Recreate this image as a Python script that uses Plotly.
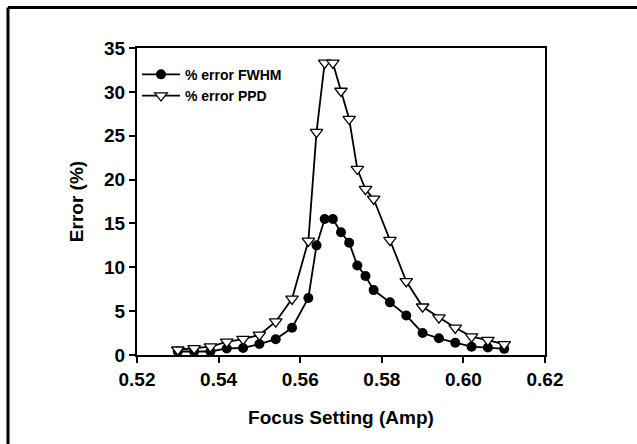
import plotly.graph_objects as go

focus_fwhm = [0.530, 0.534, 0.538, 0.542, 0.546, 0.550, 0.554, 0.558, 0.562, 0.564,
              0.566, 0.568, 0.570, 0.572, 0.574, 0.576, 0.578, 0.582, 0.586, 0.590,
              0.594, 0.598, 0.602, 0.606, 0.610]
err_fwhm = [0.4, 0.4, 0.4, 0.75, 0.8, 1.25, 1.8, 3.1, 6.5, 12.5,
            15.5, 15.5, 14.0, 12.8, 10.2, 9.0, 7.4, 6.0, 4.5, 2.5,
            1.9, 1.4, 0.95, 0.85, 0.7]

focus_ppd = [0.530, 0.534, 0.538, 0.542, 0.546, 0.550, 0.554, 0.558, 0.562, 0.564,
             0.566, 0.568, 0.570, 0.572, 0.574, 0.576, 0.578, 0.582, 0.586, 0.590,
             0.594, 0.598, 0.602, 0.606, 0.610]
err_ppd = [0.6, 0.75, 0.95, 1.5, 1.8, 2.3, 3.8, 6.4, 13.0, 25.4,
           33.3, 33.3, 30.1, 26.9, 21.2, 18.9, 17.8, 13.1, 8.4, 5.5,
           4.25, 3.1, 2.1, 1.7, 1.2]

x_ticks = [0.52, 0.54, 0.56, 0.58, 0.60, 0.62]
x_tick_labels = ["0.52", "0.54", "0.56", "0.58", "0.60", "0.62"]
y_ticks = [0, 5, 10, 15, 20, 25, 30, 35]

FONT = "Liberation Sans, Arial, sans-serif"

fig = go.Figure()
fig.add_trace(go.Scatter(
    x=focus_fwhm, y=err_fwhm, mode="lines+markers", name="% error FWHM",
    line=dict(color="black", width=1.8),
    marker=dict(symbol="circle", size=10, color="black"),
))
fig.add_trace(go.Scatter(
    x=focus_ppd, y=err_ppd, mode="lines+markers", name="% error PPD",
    line=dict(color="black", width=1.8),
    marker=dict(symbol="triangle-down", size=11, color="white",
                line=dict(color="black", width=1.3)),
))

L, R, T, B = 137, 545, 48, 355
W, H = 637, 444
pw, ph = R - L, B - T

def px(xp):
    return (xp - L) / pw

def py(yp):
    return (B - yp) / ph

fig.update_layout(
    width=W, height=H,
    margin=dict(l=L, r=W - R, t=T, b=H - B),
    paper_bgcolor="white", plot_bgcolor="white",
    font=dict(family=FONT, color="black", size=19, weight="bold"),
    showlegend=True,
    legend=dict(x=0.0, y=0.965, xanchor="left", yanchor="top",
                bgcolor="rgba(0,0,0,0)", font=dict(size=14, family=FONT),
                tracegroupgap=0, itemwidth=38),
    xaxis=dict(range=[0.52, 0.62], tickvals=x_ticks, ticktext=x_tick_labels,
               showgrid=False, zeroline=False, showline=True, linecolor="black",
               linewidth=2, mirror=True, ticks="outside", ticklen=6,
               tickwidth=1.5, tickcolor="black", tickfont=dict(size=19),
               title=dict(text="Focus Setting (Amp)", font=dict(size=19), standoff=22)),
    yaxis=dict(range=[0, 35], tickvals=y_ticks,
               showgrid=False, zeroline=False, showline=True, linecolor="black",
               linewidth=2, mirror=True, ticks="outside", ticklen=6,
               tickwidth=1.5, tickcolor="black", tickfont=dict(size=19),
               title=dict(text="Error (%)", font=dict(size=19), standoff=15)),
    shapes=[
        dict(type="line", xref="paper", yref="paper",
             x0=px(8), x1=px(640), y0=py(7.5), y1=py(7.5),
             line=dict(color="black", width=3)),
        dict(type="line", xref="paper", yref="paper",
             x0=px(8), x1=px(8), y0=py(7.5), y1=py(450),
             line=dict(color="black", width=3)),
    ],
)

fig.write_html("out.html", config={"displayModeBar": False},
               post_script="document.body.style.margin='0';")
